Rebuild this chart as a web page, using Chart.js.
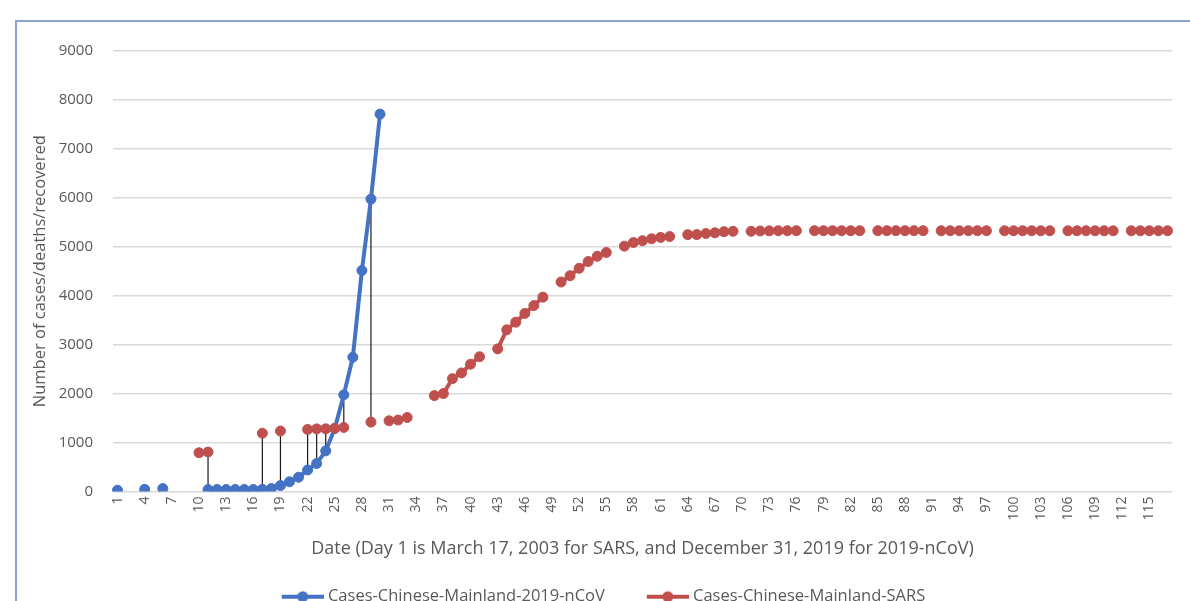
<!DOCTYPE html>
<html><head><meta charset="utf-8">
<script src="https://cdn.jsdelivr.net/npm/chart.js@4.4.1/dist/chart.umd.min.js"></script>
<style>
html,body{margin:0;padding:0;background:#fff;overflow:hidden;width:1190px;height:601px;}
#box{position:absolute;left:15px;top:20px;width:1220px;height:640px;border-left:2px solid #8aa3d3;border-top:2px solid #8aa3d3;}
#c{position:absolute;left:-18px;top:0px;}
</style></head><body>
<div id="box"><canvas id="c" width="1193" height="593"></canvas></div>
<script>
const dayLabels = [1,2,3,4,5,6,7,8,9,10,11,12,13,14,15,16,17,18,19,20,21,22,23,24,25,26,27,28,29,30,
31,32,33,34,35,36,37,38,39,40,41,42,43,44,45,46,47,48,49,50,51,52,53,54,55,56,57,58,59,60,
61,62,63,64,65,66,67,68,69,70,71,72,73,74,75,76,77,78,79,80,81,82,83,84,85,86,87,88,89,90,
91,92,93,94,95,96,97,98,99,100,101,102,103,104,105,106,107,108,109,110,111,112,113,114,115,116,117];

const ncovDays  = [1,4,6,11,12,13,14,15,16,17,18,19,20,21,22,23,24,25,26,27,28,29,30];
const ncovCases = [27,44,59,41,41,41,41,41,41,45,62,121,198,291,440,571,830,1287,1975,2744,4515,5974,7711];

const sarsDays  = [10,11,17,19,22,23,24,25,26,29,31,32,33,36,37,38,39,40,41,43,44,45,46,47,48,
50,51,52,53,54,55,57,58,59,60,61,62,64,65,66,67,68,69,71,72,73,74,75,76,78,79,80,81,82,83,
85,86,87,88,89,90,92,93,94,95,96,97,99,100,101,102,103,104,106,107,108,109,110,111,113,114,115,116,117];
const sarsCases = [792,806,1190,1235,1268,1279,1280,1290,1309,1418,1445,1460,1512,1959,2001,2305,2422,2601,2753,2914,3303,3460,3638,3799,3971,
4280,4409,4560,4698,4805,4884,5013,5086,5124,5163,5191,5209,5248,5249,5271,5285,5309,5316,5316,5323,5325,5328,5328,5328,5328,5328,5328,5328,5328,5328,
5329,5329,5329,5329,5329,5329,5328,5328,5328,5328,5328,5328,5327,5327,5327,5327,5327,5327,5327,5327,5327,5327,5327,5327,5327,5327,5327,5327,5327];

const seriesNames = ['Cases-Chinese-Mainland-2019-nCoV','Cases-Chinese-Mainland-SARS'];
const seriesColors = ['#4472c4','#c0504d'];
const yMax = 9000, yStep = 1000;

function toSeries(days, vals){
  const arr = dayLabels.map(()=>null);
  days.forEach((d,i)=>{ arr[dayLabels.indexOf(d)] = vals[i]; });
  return arr;
}

function makeIcon(color){
  const cv = document.createElement('canvas');
  cv.width = 82; cv.height = 14;
  const g = cv.getContext('2d');
  g.strokeStyle = color; g.lineWidth = 4;
  g.beginPath(); g.moveTo(40,7); g.lineTo(82,7); g.stroke();
  g.fillStyle = color;
  g.beginPath(); g.arc(61,7,5.5,0,Math.PI*2); g.fill();
  return cv;
}

const hiLow = {
  id:'hiLow',
  beforeDatasetsDraw(chart){
    const {ctx, scales:{x,y}} = chart;
    const a = chart.data.datasets[0].data, b = chart.data.datasets[1].data;
    ctx.save();
    ctx.strokeStyle = '#1a1a1a'; ctx.lineWidth = 1.2;
    for (let i=0;i<a.length;i++){
      if (a[i]!=null && b[i]!=null){
        const px = x.getPixelForValue(i);
        ctx.beginPath();
        ctx.moveTo(px, y.getPixelForValue(a[i]));
        ctx.lineTo(px, y.getPixelForValue(b[i]));
        ctx.stroke();
      }
    }
    ctx.restore();
  }
};

const FONT = "'Open Sans', 'Noto Sans', sans-serif";
const GRAY = '#595959';

new Chart(document.getElementById('c'), {
  type:'line',
  data:{
    labels: dayLabels.map(String),
    datasets:[
      {label:seriesNames[0], data:toSeries(ncovDays,ncovCases), borderColor:seriesColors[0], backgroundColor:seriesColors[0],
       borderWidth:4, pointRadius:5, pointBorderWidth:1, pointBackgroundColor:seriesColors[0], pointBorderColor:seriesColors[0], spanGaps:false, order:1, tension:0},
      {label:seriesNames[1], data:toSeries(sarsDays,sarsCases), borderColor:seriesColors[1], backgroundColor:seriesColors[1],
       borderWidth:4, pointRadius:5, pointBorderWidth:1, pointBackgroundColor:seriesColors[1], pointBorderColor:seriesColors[1], spanGaps:false, order:0, tension:0}
    ]
  },
  options:{
    responsive:false,
    animation:false,
    events:[],
    layout:{padding:{top:28,right:20,left:0,bottom:0}},
    plugins:{
      tooltip:{enabled:false},
      legend:{
        position:'bottom',
        labels:{
          usePointStyle:true, pointStyleWidth:74, padding:6,
          color:GRAY, font:{family:FONT, size:16.5},
          generateLabels(chart){
            return chart.data.datasets.map((ds,i)=>({
              text: ds.label, pointStyle: makeIcon(seriesColors[i]), fillStyle: seriesColors[i],
              strokeStyle: seriesColors[i], lineWidth:0, hidden:false, datasetIndex:i, fontColor:GRAY
            }));
          }
        }
      }
    },
    scales:{
      x:{
        type:'category', offset:true,
        grid:{display:false, drawTicks:false},
        border:{display:false},
        ticks:{autoSkip:false, maxRotation:90, minRotation:90, padding:5, color:GRAY, font:{family:FONT, size:14},
          callback:(v,i)=> (i%3===0 ? dayLabels[i] : '')},
        title:{display:true, text:'Date (Day 1 is March 17, 2003 for SARS, and December 31, 2019 for 2019-nCoV)',
          color:GRAY, font:{family:FONT, size:18}, padding:{top:4,bottom:23}},
        afterFit(s){ s.height = 91; }
      },
      y:{
        min:0, max:yMax,
        grid:{color:'#d9d9d9', lineWidth:1.5, drawTicks:false},
        border:{display:false},
        ticks:{stepSize:yStep, padding:20, color:GRAY, font:{family:FONT, size:15}, callback:(v)=>String(v)},
        title:{display:true, text:'Number of cases/deaths/recovered', color:GRAY, font:{family:FONT, size:16.5}, padding:{top:31,bottom:0}},
        afterFit(s){ s.width = 114; }
      }
    }
  },
  plugins:[hiLow]
});
</script>
</body></html>
